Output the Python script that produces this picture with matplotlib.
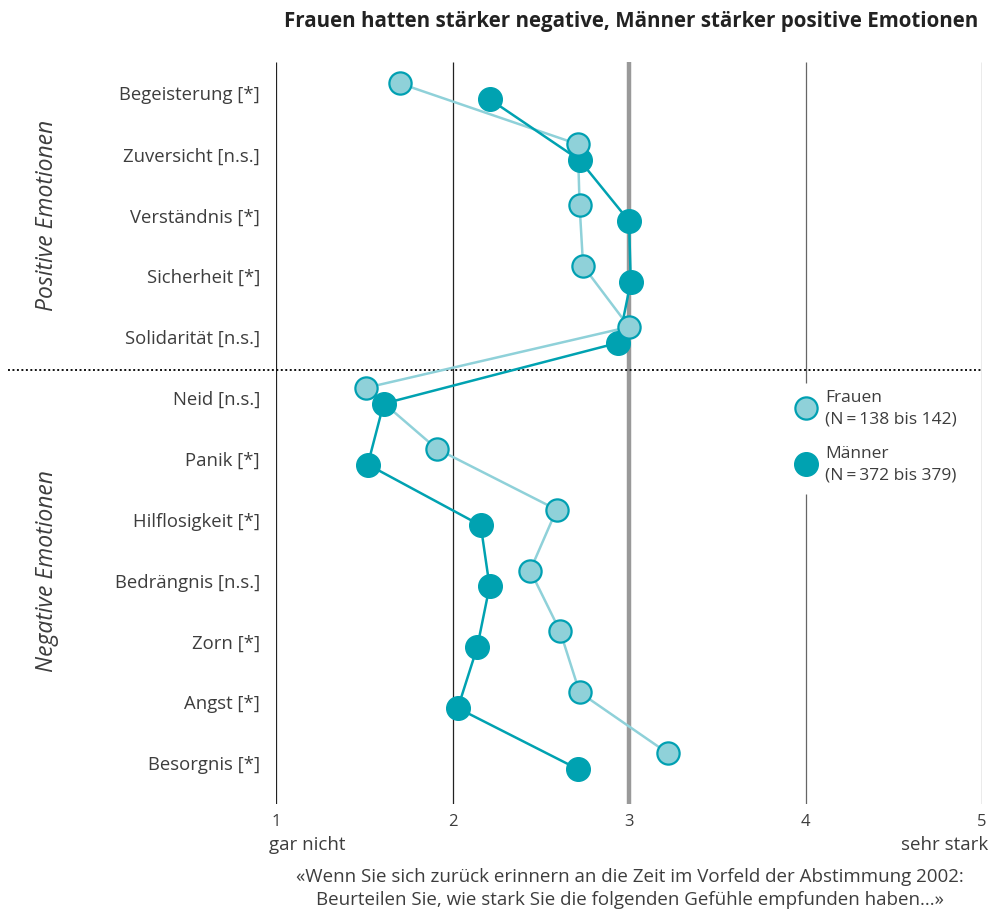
import matplotlib
matplotlib.use("Agg")
import matplotlib.pyplot as plt
import numpy as np

plt.rcParams['font.family'] = ['Open Sans', 'DejaVu Sans']

# --- data -------------------------------------------------------------
emotions = [
    "Begeisterung [*]", "Zuversicht [n.s.]", "Verständnis [*]",
    "Sicherheit [*]", "Solidarität [n.s.]",
    "Neid [n.s.]", "Panik [*]", "Hilflosigkeit [*]", "Bedrängnis [n.s.]",
    "Zorn [*]", "Angst [*]", "Besorgnis [*]",
]
frauen = [1.70, 2.71, 2.72, 2.74, 3.00, 1.51, 1.91, 2.59, 2.44, 2.61, 2.72, 3.22]
maenner = [2.21, 2.72, 3.00, 3.01, 2.94, 1.61, 1.52, 2.16, 2.21, 2.14, 2.03, 2.71]
scale_ticks = [1, 2, 3, 4, 5]
scale_ends = ["gar nicht", "sehr stark"]
legend_labels = [("Frauen", "(N\u2009=\u2009138 bis 142)"),
                 ("Männer", "(N\u2009=\u2009372 bis 379)")]

# --- styling ----------------------------------------------------------
W, H = 989, 914
TXT = "#3d3d3d"
F_FILL, F_EDGE, F_LINE = "#8fd1d9", "#00a0b2", "#8fd1d9"
M_COL = "#00a2b1"


def fx(x):
    return x / W


def fy(y):
    return 1 - y / H


fig = plt.figure(figsize=(W / 100, H / 100), dpi=100)
ax = fig.add_axes([fx(276), fy(804), fx(982) - fx(276), fy(62) - fy(804)])
ax.set_xlim(1, 5)
ax.set_ylim(11.634, -0.55)
ax.axis("off")

rows = np.arange(len(emotions))
f_y = rows - 0.2
m_y = rows + 0.06

# scale lines
ax.vlines([1, 2], -0.55, 11.634, color="#222222", lw=0.9, zorder=1)
ax.vlines(3, -0.55, 11.634, color="#999999", lw=3.2, zorder=1)
ax.vlines([4, 4], [-0.55, 6.54], [4.72, 11.634], color="#666666", lw=0.9, zorder=1)
ax.vlines(5, -0.55, 11.634, color="#666666", lw=0.9, zorder=1)

# divider between positive and negative emotions
ax.plot([-0.52, 5], [4.5, 4.5], color="#111111", lw=1.4,
        linestyle=(0, (1, 1.3)), clip_on=False, zorder=2)

# series
ax.plot(frauen, f_y, color=F_LINE, lw=1.8, zorder=3)
ax.plot(maenner, m_y, color=M_COL, lw=1.8, zorder=4)
ax.plot(maenner, m_y, "o", ms=17, color=M_COL, mec=M_COL, zorder=5)
ax.plot(frauen, f_y, "o", ms=16, mfc=F_FILL, mec=F_EDGE, mew=1.6, zorder=6)

# legend
leg_y = [5.13, 6.05]
ax.plot([4], [leg_y[0]], "o", ms=16, mfc=F_FILL, mec=F_EDGE, mew=1.6,
        clip_on=False, zorder=6)
ax.plot([4], [leg_y[1]], "o", ms=17, color=M_COL, clip_on=False, zorder=6)
for (name, n), yy in zip(legend_labels, leg_y):
    ax.text(4.113, yy - 0.16, name, ha="left", va="center", fontsize=12.5,
            color=TXT)
    ax.text(4.113, yy + 0.19, n, ha="left", va="center", fontsize=12.5,
            color=TXT)

# row labels
for r, lab in zip(rows, emotions):
    ax.text(0.91, r, lab, ha="right", va="center", fontsize=13.3, color=TXT,
            clip_on=False)

# group labels
fig.text(fx(47), fy(215), "Positive Emotionen", rotation=90, ha="center",
         va="center", fontsize=16.5, style="italic", color=TXT)
fig.text(fx(47), fy(571), "Negative Emotionen", rotation=90, ha="center",
         va="center", fontsize=16.5, style="italic", color=TXT)

# scale tick labels
for t in scale_ticks:
    ax.text(t, 11.634 + 0.3, str(t), ha="center", va="center", fontsize=12,
            color=TXT, clip_on=False)
fig.text(fx(269), fy(845), scale_ends[0], ha="left", va="center",
         fontsize=13.5, color=TXT)
fig.text(fx(988), fy(845), scale_ends[1], ha="right", va="center",
         fontsize=13.5, color=TXT)

# question text
fig.text(fx(630), fy(877),
         "«Wenn Sie sich zurück erinnern an die Zeit im Vorfeld der Abstimmung 2002:",
         ha="center", va="center", fontsize=13.5, color=TXT)
fig.text(fx(630), fy(900),
         "Beurteilen Sie, wie stark Sie die folgenden Gefühle empfunden haben...»",
         ha="center", va="center", fontsize=13.5, color=TXT)

# title
fig.text(fx(978), fy(22),
         "Frauen hatten stärker negative, Männer stärker positive Emotionen",
         ha="right", va="center", fontsize=14.8, fontweight="bold", color="#222222")

fig.savefig("out.png", dpi=100)
